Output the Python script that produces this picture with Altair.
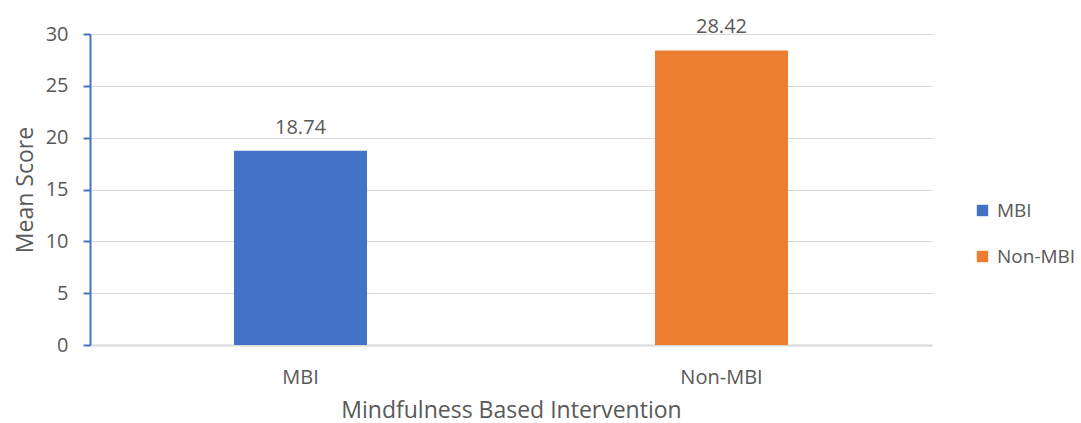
import altair as alt
import pandas as pd

categories = ["MBI", "Non-MBI"]
mean_scores = [18.74, 28.42]
label_texts = ["18.74", "28.42"]
colors = ["#4472C4", "#ED7D31"]

df = pd.DataFrame({"group": categories, "score": mean_scores, "label": label_texts})

FONT = "Open Sans"
GREY = "#595959"

x = alt.X("group:N", sort=categories,
          scale=alt.Scale(paddingInner=0.684, paddingOuter=0.342),
          axis=alt.Axis(title="Mindfulness Based Intervention", labelAngle=0,
                        labelFontSize=20, labelColor=GREY, labelFont=FONT,
                        labelPadding=22, titleFontSize=23, titleColor=GREY,
                        titleFont=FONT, titleFontWeight="normal", titlePadding=12,
                        ticks=False, domainColor="#d9d9d9", domainWidth=2))
y = alt.Y("score:Q", scale=alt.Scale(domain=[0, 30], nice=False),
          axis=alt.Axis(title="Mean Score", values=[0, 5, 10, 15, 20, 25, 30],
                        labelFontSize=20, labelColor=GREY, labelFont=FONT,
                        labelPadding=15, titleFontSize=23, titleColor=GREY,
                        titleFont=FONT, titleFontWeight="normal", titlePadding=8,
                        domainColor="#4472C4", domainWidth=2, tickColor="#4472C4",
                        tickSize=7, tickWidth=2, gridColor="#d9d9d9", gridWidth=1))

bars = alt.Chart(df).mark_bar().encode(
    x=x, y=y,
    color=alt.Color("group:N", sort=categories,
                    scale=alt.Scale(domain=categories, range=colors),
                    legend=alt.Legend(title=None, orient="none", legendX=883, legendY=167,
                                      symbolType="square", symbolSize=130,
                                      labelFontSize=19, labelColor=GREY, labelFont=FONT,
                                      labelOffset=5, rowPadding=26, symbolStrokeWidth=0)),
)

text = alt.Chart(df).mark_text(dy=-23, fontSize=20, color=GREY, font=FONT).encode(
    x=alt.X("group:N", sort=categories), y="score:Q", text="label:N")

chart = (bars + text).properties(
    width=842, height=311,
    autosize=alt.AutoSizeParams(type="none"),
    padding={"left": 90, "top": 34, "right": 149, "bottom": 78},
).configure_view(stroke=None).configure_axis(domainCap="butt")

chart.save("out.html", embed_options={"renderer": "svg", "actions": False})
